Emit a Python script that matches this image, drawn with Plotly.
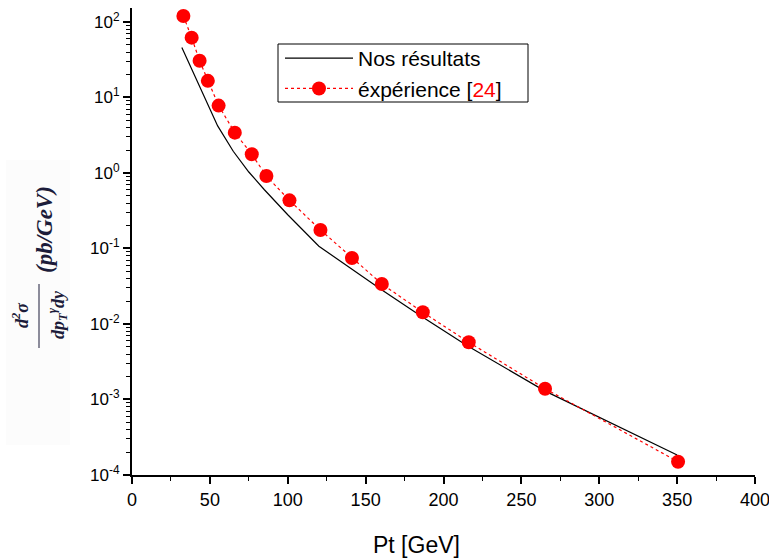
import plotly.graph_objects as go

# Measured cross section (experimental points)
pt_exp = [33.0, 38.3, 43.4, 48.7, 55.6, 66.0, 76.9, 86.3, 101.1, 121.0,
          141.2, 160.4, 186.7, 216.2, 265.2, 350.6]
xsec_exp = [120, 62, 30.7, 16.6, 7.8, 3.42, 1.77, 0.91, 0.434, 0.176,
            0.0748, 0.0339, 0.0143, 0.00573, 0.00139, 0.000150]

# Computed cross section
pt_th = [32, 55, 65, 75, 85, 100, 120, 160, 185, 215, 265, 350]
xsec_th = [46, 4.2, 1.94, 1.03, 0.60, 0.28, 0.107, 0.0287, 0.0130,
           0.00519, 0.0013, 0.000184]

# Axis ticks
x_ticks = [0, 50, 100, 150, 200, 250, 300, 350, 400]
y_exps = [-4, -3, -2, -1, 0, 1, 2]

W, H = 769, 560
ML, MR, MT, MB = 132, 14, 8, 85
PW, PH = W - ML - MR, H - MT - MB


def px(xp):
    return (xp - ML) / PW


def py(yp):
    return 1 - (yp - MT) / PH


FONT = "Arial, Liberation Sans, sans-serif"
SERIF = "Liberation Serif, DejaVu Serif, serif"

fig = go.Figure()
fig.add_trace(go.Scatter(
    x=pt_th, y=xsec_th, mode="lines", name="Nos résultats",
    line=dict(color="black", width=1.2),
))
fig.add_trace(go.Scatter(
    x=pt_exp, y=xsec_exp, mode="lines+markers",
    name="éxpérience [<span style='color:red'>24</span>]",
    line=dict(color="red", width=1.2, dash="dot"),
    marker=dict(color="red", size=14, line=dict(width=0)),
    cliponaxis=False,
))

minor_y = [m * 10 ** e for e in range(-4, 2) for m in range(2, 10)]

fig.update_xaxes(
    range=[0, 400], tickvals=x_ticks, ticklabeloverflow="allow", automargin=False,
    ticks="outside", ticklen=7, tickwidth=1.5, tickcolor="black",
    minor=dict(ticks="outside", ticklen=4, tickwidth=1.2, dtick=25, tickcolor="black"),
    showline=True, linewidth=2, linecolor="black",
    showgrid=False, zeroline=False,
    tickfont=dict(family=FONT, size=18, color="black"),
)
fig.update_yaxes(
    type="log", range=[-4, 2.185], automargin=False,
    tickvals=[10 ** e for e in y_exps],
    ticktext=[f"10<sup>{e}</sup>" for e in y_exps],
    ticks="outside", ticklen=7, tickwidth=1.5, tickcolor="black",
    minor=dict(ticks="outside", ticklen=4, tickwidth=1.2, tickvals=minor_y, tickcolor="black"),
    showline=True, linewidth=2, linecolor="black",
    showgrid=False, zeroline=False,
    tickfont=dict(family=FONT, size=17, color="black"),
)

label_color = "#1c1c3a"
annotations = [
    dict(x=px(20), y=py(315), text="<b><i>d<sup>2</sup>σ</i></b>", size=18),
    dict(x=px(57), y=py(315), text="<b><i>dp<sub>T</sub><sup>γ</sup>dy</i></b>", size=18),
    dict(x=px(44), y=py(230), text="<b><i>(pb/GeV)</i></b>", size=23),
]
for a in annotations:
    size = a.pop("size")
    a.update(xref="paper", yref="paper", showarrow=False, textangle=-90,
             xanchor="center", yanchor="middle",
             font=dict(family=SERIF, size=size, color=label_color))
annotations.append(dict(
    x=px(416), y=py(545), xref="paper", yref="paper", showarrow=False,
    xanchor="center", yanchor="middle", text="Pt [GeV]",
    font=dict(family=FONT, size=23, color="black"),
))
fig.update_layout(annotations=annotations)

# faint backdrop behind the y-axis label, fraction bar, legend frame
fig.add_shape(type="rect", xref="paper", yref="paper",
              x0=px(6), x1=px(70), y0=py(160), y1=py(445),
              fillcolor="rgba(0,0,0,0.012)", line=dict(width=0), layer="below")
fig.add_shape(type="line", xref="paper", yref="paper",
              x0=px(39), x1=px(39), y0=py(284), y1=py(348),
              line=dict(color=label_color, width=1))
fig.add_shape(type="rect", xref="paper", yref="paper",
              x0=px(278), x1=px(528), y0=py(44), y1=py(102),
              fillcolor="white", line=dict(color="black", width=1), layer="above")

fig.update_layout(
    width=W, height=H,
    margin=dict(l=ML, r=MR, t=MT, b=MB),
    paper_bgcolor="white", plot_bgcolor="white",
    showlegend=True,
    legend=dict(
        x=px(280), y=py(38), xanchor="left", yanchor="top",
        bgcolor="rgba(0,0,0,0)", borderwidth=0,
        font=dict(family=FONT, size=21, color="black"),
        itemwidth=68, tracegroupgap=0,
    ),
)

fig.write_html("out.html")
